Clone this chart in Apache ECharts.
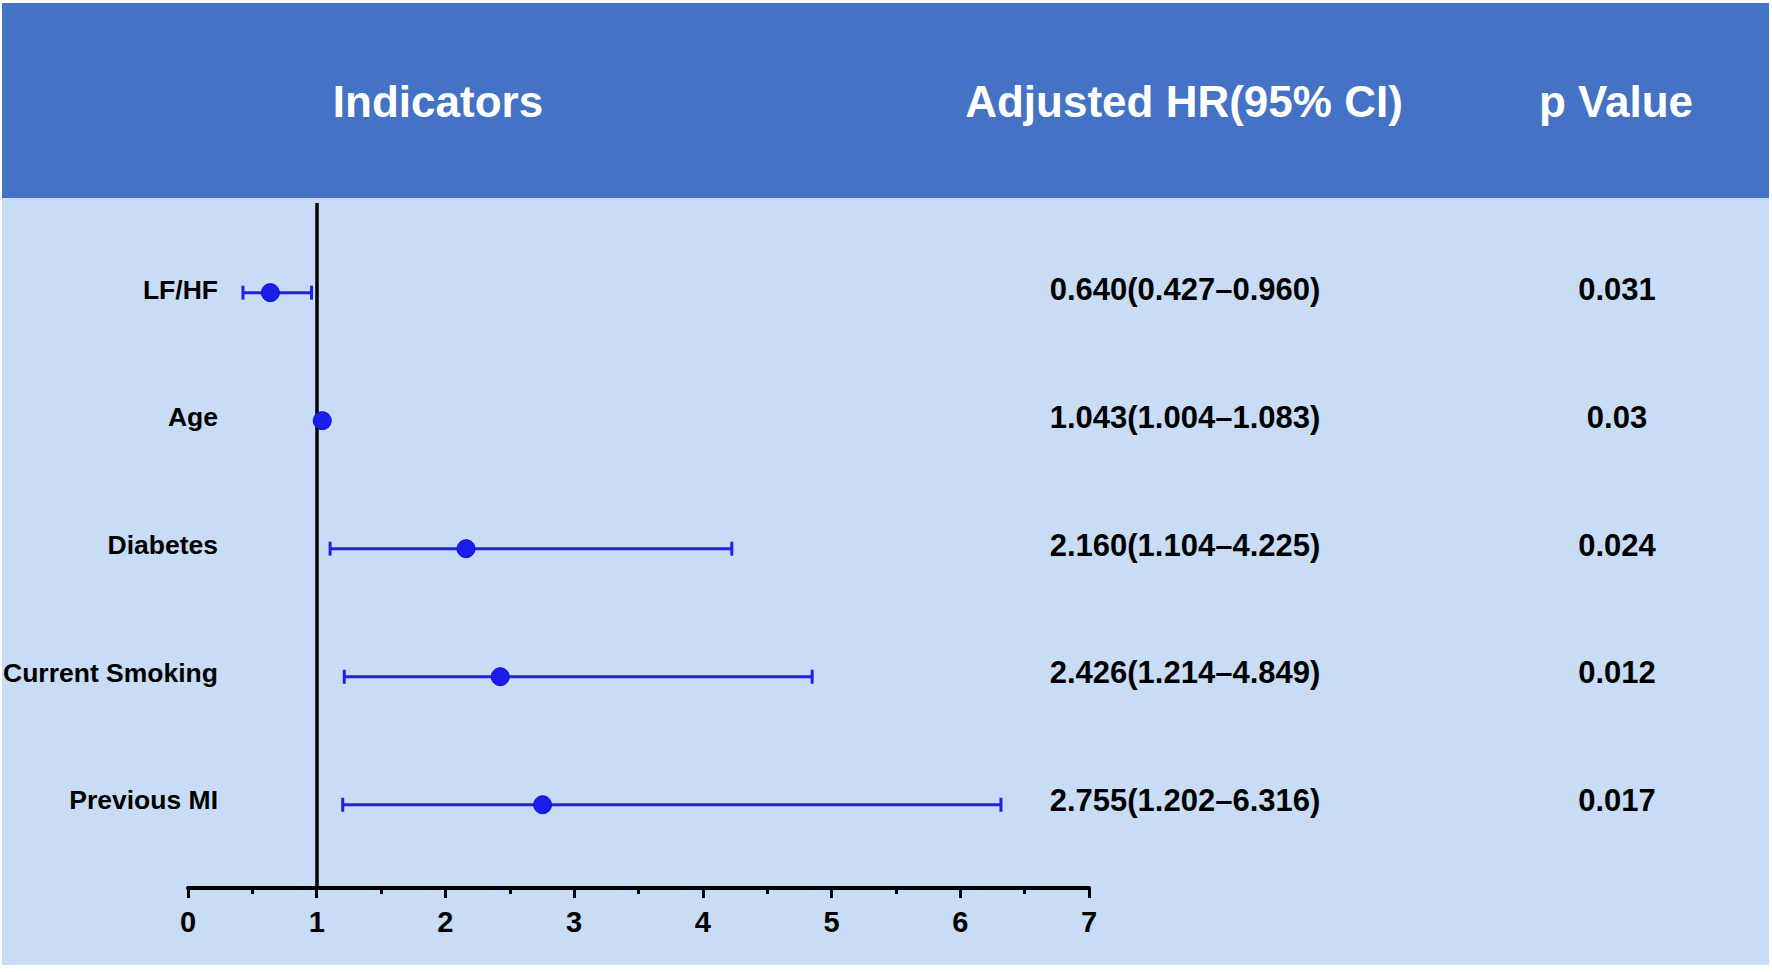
<!DOCTYPE html>
<html><head><meta charset="utf-8">
<script src="https://cdn.jsdelivr.net/npm/echarts@6/dist/echarts.min.js"></script>
<style>html,body{margin:0;padding:0;background:#fff}#c{width:1772px;height:972px}</style>
</head><body><div id="c"></div>
<script>
const indicators = ['LF/HF', 'Age', 'Diabetes', 'Current Smoking', 'Previous MI'];
const hr = [0.640, 1.043, 2.160, 2.426, 2.755];
const ciLow = [0.427, 1.004, 1.104, 1.214, 1.202];
const ciHigh = [0.960, 1.083, 4.225, 4.849, 6.316];
const pValues = ['0.031', '0.03', '0.024', '0.012', '0.017'];
const headers = ['Indicators', 'Adjusted HR(95% CI)', 'p Value'];
const xTickMin = 0, xTickMax = 7, xTickStep = 1;

const hrLabels = hr.map((v, i) => v.toFixed(3) + '(' + ciLow[i].toFixed(3) + '\u2013' + ciHigh[i].toFixed(3) + ')');

const SANS = '"Liberation Sans", Arial, Helvetica, sans-serif';
const BLUE = '#2020ea';

const chart = echarts.init(document.getElementById('c'), null, {renderer: 'svg'});
const headerStyle = (t) => ({text: t, fill: '#fff', font: 'bold 44px ' + SANS, align: 'center', verticalAlign: 'middle'});
const option = {
  backgroundColor: '#ffffff',
  animation: false,
  graphic: [
    {type: 'rect', z: -100, shape: {x: 2, y: 3, width: 1767, height: 195}, style: {fill: '#4472C4'}},
    {type: 'rect', z: -100, shape: {x: 2, y: 198, width: 1767, height: 767}, style: {fill: '#C9DCF5'}},
    {type: 'text', z: 10, x: 438, y: 101, style: headerStyle(headers[0])},
    {type: 'text', z: 10, x: 1184, y: 101, style: headerStyle(headers[1])},
    {type: 'text', z: 10, x: 1616, y: 101, style: headerStyle(headers[2])}
  ],
  grid: [
    {left: 188, width: 901, top: 203, height: 685, containLabel: false},
    {left: 222, right: 587, top: 226, height: 638, containLabel: false}
  ],
  xAxis: [
    {
      gridIndex: 0, type: 'value', min: xTickMin, max: xTickMax, interval: xTickStep,
      axisLine: {show: true, onZero: false, lineStyle: {color: '#000', width: 4}},
      axisTick: {show: true, length: 10, lineStyle: {color: '#000', width: 3}},
      minorTick: {show: true, splitNumber: 2, length: 6, lineStyle: {color: '#000', width: 3}},
      splitLine: {show: false},
      axisLabel: {margin: 19, color: '#000', fontFamily: SANS, fontWeight: 'bold', fontSize: 29}
    },
    {gridIndex: 1, type: 'value', show: false}
  ],
  yAxis: [
    {gridIndex: 0, type: 'value', inverse: true, min: -0.70, max: 4.65, show: false},
    {
      gridIndex: 1, type: 'category', inverse: true, data: indicators, position: 'left',
      axisLine: {show: false}, axisTick: {show: false}, splitLine: {show: false},
      axisLabel: {interval: 0, margin: 4, color: '#000', fontFamily: SANS, fontWeight: 'bold', fontSize: 26.5}
    },
    {
      gridIndex: 1, type: 'category', inverse: true, data: hrLabels, position: 'right', offset: 0,
      axisLine: {show: false}, axisTick: {show: false}, splitLine: {show: false},
      axisLabel: {interval: 0, margin: 0, align: 'center', color: '#000', fontFamily: SANS, fontWeight: 'bold', fontSize: 31}
    },
    {
      gridIndex: 1, type: 'category', inverse: true, data: pValues, position: 'right', offset: 432,
      axisLine: {show: false}, axisTick: {show: false}, splitLine: {show: false},
      axisLabel: {interval: 0, margin: 0, align: 'center', color: '#000', fontFamily: SANS, fontWeight: 'bold', fontSize: 31}
    }
  ],
  series: [
    {
      type: 'custom', xAxisIndex: 0, yAxisIndex: 0, z: 3,
      data: ciLow.map((lo, i) => [lo, ciHigh[i], i]),
      encode: {x: [0, 1], y: 2},
      renderItem: function (params, api) {
        const p1 = api.coord([api.value(0), api.value(2)]);
        const p2 = api.coord([api.value(1), api.value(2)]);
        const h = 7;
        const st = {stroke: BLUE, lineWidth: 3};
        return {
          type: 'group',
          children: [
            {type: 'line', shape: {x1: p1[0], y1: p1[1], x2: p2[0], y2: p2[1]}, style: st},
            {type: 'line', shape: {x1: p1[0], y1: p1[1] - h, x2: p1[0], y2: p1[1] + h}, style: st},
            {type: 'line', shape: {x1: p2[0], y1: p2[1] - h, x2: p2[0], y2: p2[1] + h}, style: st}
          ]
        };
      }
    },
    {
      type: 'scatter', xAxisIndex: 0, yAxisIndex: 0, z: 5,
      data: hr.map((v, i) => [v, i]),
      symbol: 'circle', symbolSize: 18,
      itemStyle: {color: '#1c1cec', borderColor: '#1414c8', borderWidth: 1, opacity: 1},
      markLine: {
        silent: true, symbol: 'none', animation: false,
        label: {show: false},
        lineStyle: {color: '#000', width: 3.5, type: 'solid'},
        data: [{xAxis: 1}]
      }
    }
  ]
};
chart.setOption(option);
</script>
</body></html>
